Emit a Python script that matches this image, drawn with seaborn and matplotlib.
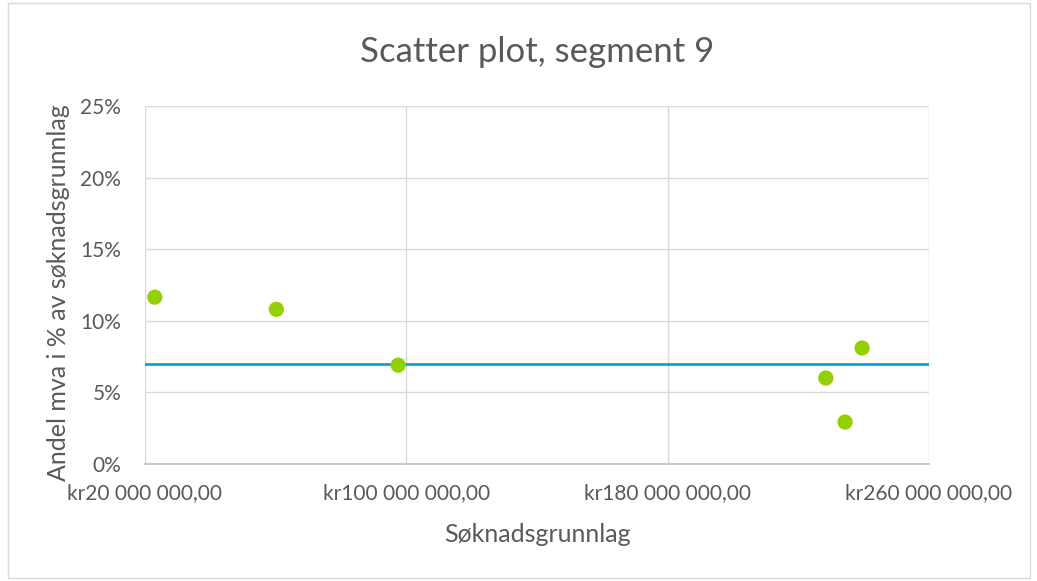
import matplotlib
matplotlib.use("Agg")
import matplotlib.pyplot as plt
from matplotlib.ticker import FuncFormatter, MultipleLocator
from matplotlib.patches import Rectangle
import seaborn as sns
import pandas as pd

# values
soknadsgrunnlag = [23_000_000, 60_200_000, 97_500_000, 228_400_000, 234_300_000, 239_500_000]
andel_mva = [0.1165, 0.108, 0.069, 0.060, 0.0293, 0.081]
threshold = 0.07
x_ticks = [20_000_000, 100_000_000, 180_000_000, 260_000_000]

text_col = "#595959"
grid_col = "#d9d9d9"

sns.set_theme(style="white")
plt.rcParams['font.family'] = ['Lato', 'DejaVu Sans']

df = pd.DataFrame({"x": soknadsgrunnlag, "y": andel_mva})

fig = plt.figure(figsize=(10.37, 5.81), dpi=100)
ax = fig.add_axes([0.1398, 0.2014, 0.7561, 0.6162])

# outer chart border
fig.patches.append(Rectangle((0.008, 0.006), 0.985, 0.988, transform=fig.transFigure,
                             fill=False, edgecolor=grid_col, linewidth=1))

ax.axhline(threshold, color="#0f9fdb", linewidth=2, zorder=2)
sns.scatterplot(data=df, x="x", y="y", ax=ax, color="#92d000", s=120,
                edgecolor="none", zorder=3)

ax.set_xlim(x_ticks[0], x_ticks[-1])
ax.set_ylim(0, 0.25)
ax.set_xticks(x_ticks)
ax.yaxis.set_major_locator(MultipleLocator(0.05))

def kr_fmt(v, pos):
    return "kr" + f"{int(v):,}".replace(",", " ") + ",00"

ax.xaxis.set_major_formatter(FuncFormatter(kr_fmt))
ax.yaxis.set_major_formatter(FuncFormatter(lambda v, pos: f"{round(v * 100)}%"))

ax.grid(True, color=grid_col, linewidth=1)
ax.set_axisbelow(True)
for side in ["top", "right", "left"]:
    ax.spines[side].set_visible(False)
ax.spines["bottom"].set_color("#bfbfbf")
ax.spines["bottom"].set_linewidth(1.2)

ax.tick_params(axis="x", length=0, pad=14, labelsize=15, labelcolor=text_col)
ax.tick_params(axis="y", length=0, pad=17, labelsize=15, labelcolor=text_col)

ax.set_xlabel("Søknadsgrunnlag", fontsize=18, color=text_col, labelpad=14)
ax.set_ylabel("Andel mva i % av søknadsgrunnlag", fontsize=18, color=text_col)
ax.yaxis.set_label_coords(-0.095, 0.478)
ax.set_title("Scatter plot, segment 9", fontsize=25, color=text_col, pad=32)

fig.savefig("out.png", dpi=100)
